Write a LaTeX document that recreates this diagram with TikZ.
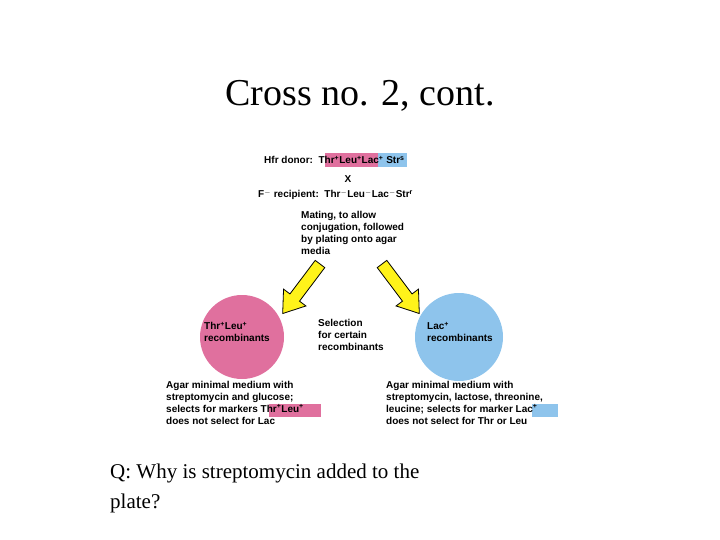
\documentclass[tikz,border=0pt]{standalone}
\usepackage{fontspec}
\setmainfont{Liberation Serif}
\newfontfamily\arial{Liberation Sans}
\newcommand{\supx}[1]{\textsuperscript{#1}}
\begin{document}
\begin{tikzpicture}[x=1pt,y=-1pt,
  lab/.style={anchor=west,inner sep=0pt,font=\arial\bfseries\fontsize{10}{12}\selectfont},
  blk/.style={anchor=north west,inner sep=0pt,align=left,font=\arial\bfseries\fontsize{10}{12}\selectfont},
  yarrow/.style={fill=yellow!90!white,draw=black,line width=0.8pt,line join=miter}]
\definecolor{pinkc}{RGB}{224,112,158}
\definecolor{bluec}{RGB}{142,196,236}
\useasboundingbox (0,0) rectangle (720,540);
\node[font=\fontsize{38}{40}\selectfont] (title) at (360,96) {Cross no. 2, cont.};
% header
\fill[pinkc] (325,153) rectangle (378,167);
\fill[bluec] (378,153) rectangle (407,167);
\node[lab] (hfr) at (264,160) {Hfr donor:\ \ Thr\supx{+}Leu\supx{+}Lac\supx{+} Str\supx{s}};
\node[lab,anchor=center] (x) at (348,179) {X};
\node[lab] (frec) at (258,195) {F\supx{$-$} recipient:\ \ Thr\supx{$-$}Leu\supx{$-$}Lac\supx{$-$}Str\supx{r}};
\node[blk] (mating) at (301,211) {Mating, to allow\\conjugation, followed\\by plating onto agar\\media};
% arrows
\begin{scope}[shift={(320,264)},rotate=-127]
\draw[yarrow] (0,-6) -- (42,-6) -- (42,-14) -- (62,0) -- (42,14) -- (42,6) -- (0,6) -- cycle;
\end{scope}
\begin{scope}[shift={(382,264)},rotate=-53]
\draw[yarrow] (0,-6) -- (42,-6) -- (42,-14) -- (62,0) -- (42,14) -- (42,6) -- (0,6) -- cycle;
\end{scope}
% circles
\fill[pinkc] (242,337) circle (42);
\fill[bluec] (459,337) circle (44);
\node[blk] (pl) at (204,322) {Thr\supx{+}Leu\supx{+}\\recombinants};
\node[blk] (bl) at (427,322) {Lac\supx{+}\\recombinants};
\node[blk] (sel) at (318,319) {Selection\\for certain\\recombinants};
% bottom
\fill[pinkc] (269,404) rectangle (321,417);
\fill[bluec] (532,404) rectangle (558,417);
\node[blk] (ml) at (166,381) {Agar minimal medium with\\streptomycin and glucose;\\selects for markers Thr\supx{+}Leu\supx{+}\\does not select for Lac};
\node[blk] (mr) at (386,381) {Agar minimal medium with\\streptomycin, lactose, threonine,\\leucine; selects for marker Lac\supx{+}\\does not select for Thr or Leu};
\node[anchor=north west,inner sep=0pt,align=left,font=\fontsize{21}{30}\selectfont] (q) at (110,464) {Q: Why is streptomycin added to the\\plate?};
\end{tikzpicture}
\end{document}
